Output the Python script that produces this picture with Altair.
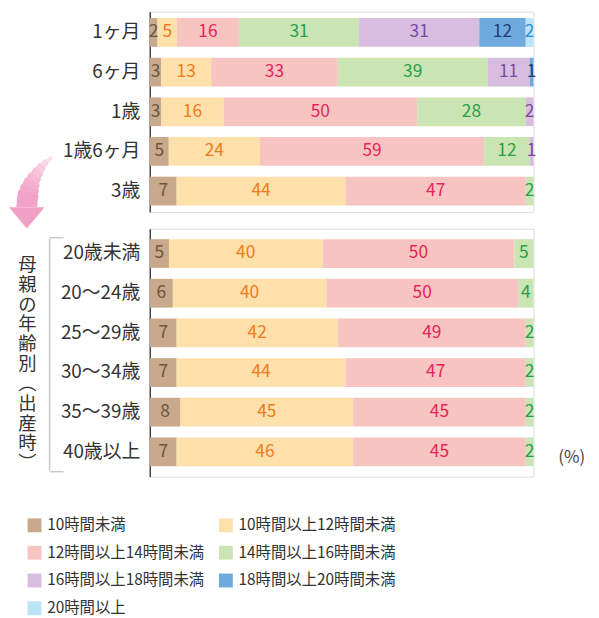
import altair as alt
import pandas as pd

FONT = "Noto Sans CJK JP"

series = ["10時間未満", "10時間以上12時間未満", "12時間以上14時間未満",
          "14時間以上16時間未満", "16時間以上18時間未満", "18時間以上20時間未満", "20時間以上"]
fill_colors = ["#c9a98b", "#fde0aa", "#f8c4c1", "#cbe4b4", "#d8bde0", "#6faade", "#bde3f7"]
text_colors = ["#6b5540", "#f07a1e", "#e5245a", "#27a048", "#7b4a9c", "#1f3d7a", "#2a8cd8"]
# legend shows two columns read row by row
legend_order = [0, 2, 4, 6, 1, 3, 5]

top_groups = ["1ヶ月", "6ヶ月", "1歳", "1歳6ヶ月", "3歳"]
bottom_groups = ["20歳未満", "20～24歳", "25～29歳", "30～34歳", "35～39歳", "40歳以上"]
groups = top_groups + bottom_groups

v_lt10 = [2, 3, 3, 5, 7, 5, 6, 7, 7, 8, 7]
v_10_12 = [5, 13, 16, 24, 44, 40, 40, 42, 44, 45, 46]
v_12_14 = [16, 33, 50, 59, 47, 50, 50, 49, 47, 45, 45]
v_14_16 = [31, 39, 28, 12, 2, 5, 4, 2, 2, 2, 2]
v_16_18 = [31, 11, 2, 1, 0, 0, 0, 0, 0, 0, 0]
v_18_20 = [12, 1, 0, 0, 0, 0, 0, 0, 0, 0, 0]
v_20up = [2, 0, 0, 0, 0, 0, 0, 0, 0, 0, 0]
all_values = [v_lt10, v_10_12, v_12_14, v_14_16, v_16_18, v_18_20, v_20up]

rows = []
for gi, g in enumerate(groups):
    for k, s in enumerate(series):
        v = all_values[k][gi]
        if v > 0:
            rows.append({"group": g, "series": s, "order": k, "value": v,
                         "tcolor": text_colors[k],
                         "panel": "top" if g in top_groups else "bottom"})
df = pd.DataFrame(rows)

legend = alt.Legend(title=None, orient="none", legendX=-124, legendY=510,
                    columns=2, symbolType="square", symbolSize=196,
                    symbolStrokeWidth=0, labelFontSize=15.5, labelFont=FONT,
                    labelColor="#333", rowPadding=11, columnPadding=14,
                    labelOffset=5, labelLimit=300)

color = alt.Color("series:N",
                  scale=alt.Scale(domain=[series[i] for i in legend_order],
                                  range=[fill_colors[i] for i in legend_order]),
                  legend=legend)

one = pd.DataFrame({"a": [1]})


def panel(name, cats, po, yaxis):
    d = df[df["panel"] == name]
    base = alt.Chart(d).encode(
        y=alt.Y("group:N", sort=cats, axis=yaxis,
                scale=alt.Scale(paddingInner=0.275, paddingOuter=po)))
    bars = base.mark_bar().encode(
        x=alt.X("value:Q", stack="normalize", axis=None,
                scale=alt.Scale(domain=[0, 1])),
        color=color,
        order=alt.Order("order:Q"))
    labels = base.transform_joinaggregate(
        total="sum(value)", groupby=["group"]
    ).transform_window(
        cum="sum(value)", groupby=["group"], sort=[alt.SortField("order")],
        frame=[None, 0]
    ).transform_calculate(
        mid="(datum.cum - datum.value/2)/datum.total"
    ).mark_text(fontSize=17.5, font=FONT, baseline="middle").encode(
        x=alt.X("mid:Q", axis=None, scale=alt.Scale(domain=[0, 1])),
        text=alt.Text("value:Q"),
        color=alt.Color("tcolor:N", scale=None))
    return bars, labels


top_axis = alt.Axis(title=None, ticks=False, labelFontSize=19, labelFont=FONT,
                    labelColor="#333", labelPadding=10, domainColor="#444",
                    domainWidth=1.5)
bottom_axis = alt.Axis(title=list("母親の年齢別") + ["︵", "出", "産", "時", "︶"],
                       titleAngle=0, titleX=-124, titleY=27, titleAlign="center",
                       titleBaseline="top", titleFontSize=18.5, titleLineHeight=20,
                       titleFontWeight="normal", titleColor="#333", titleFont=FONT,
                       ticks=False, labelFontSize=19, labelFont=FONT,
                       labelColor="#333", labelPadding=10, domainColor="#444",
                       domainWidth=1.5)

tb, tl = panel("top", top_groups, 0.1625, top_axis)
bb, bl = panel("bottom", bottom_groups, 0.2625, bottom_axis)

# decorative curved arrow (top panel), tapering from thin/light to thick/pink
arc_end = [5.64, 5.54, 5.44, 5.34, 5.24, 5.14, 5.04, 4.94]
arc_width = [4, 6.5, 9, 11.5, 14, 16.5, 19, 21]
arc_color = ["#fbe0ec", "#f9d5e6", "#f8cbe0", "#f6c1da", "#f5b8d5", "#f3afcf", "#f2a8cb", "#f1a3c8"]
arrow_layers = []
for t2, w, c in zip(arc_end, arc_width, arc_color):
    arrow_layers.append(alt.Chart(one).mark_arc(
        theta=4.712, theta2=t2, radius=62.5 + w / 2, radius2=62.5 - w / 2, color=c
    ).encode(x=alt.value(-61.5), y=alt.value(197)))
arrow_head = alt.Chart(one).mark_point(
    shape="M-1,-0.6L1,-0.6L0,0.6Z", size=1296, filled=True, opacity=1,
    color="#f0a0c5", strokeWidth=0
).encode(x=alt.value(-124), y=alt.value(208))

top = alt.layer(tb, tl, *arrow_layers, arrow_head).properties(width=387, height=202)

# bracket and unit (bottom panel)
br_v = alt.Chart(one).mark_rule(color="#c8c8c8", strokeWidth=1.5).encode(
    x=alt.value(-101), y=alt.value(10), y2=alt.value(244))
br_t = alt.Chart(one).mark_rule(color="#c8c8c8", strokeWidth=1.5).encode(
    x=alt.value(-101), x2=alt.value(-87), y=alt.value(9))
br_b = alt.Chart(one).mark_rule(color="#c8c8c8", strokeWidth=1.5).encode(
    x=alt.value(-101), x2=alt.value(-87), y=alt.value(245))
unit = alt.Chart(one).mark_text(text="(%)", align="left", baseline="middle",
                                fontSize=17, font=FONT, color="#444").encode(
    x=alt.value(412), y=alt.value(231))

bottom = alt.layer(bb, bl, br_v, br_t, br_b, unit).properties(width=387, height=250)

chart = alt.vconcat(top, bottom, spacing=17, bounds="flush").properties(
    padding={"left": 0, "top": 0, "right": 5, "bottom": 5}
).configure_view(stroke=None).configure(font=FONT)

chart.save("out.html", embed_options={"renderer": "svg", "actions": False})
